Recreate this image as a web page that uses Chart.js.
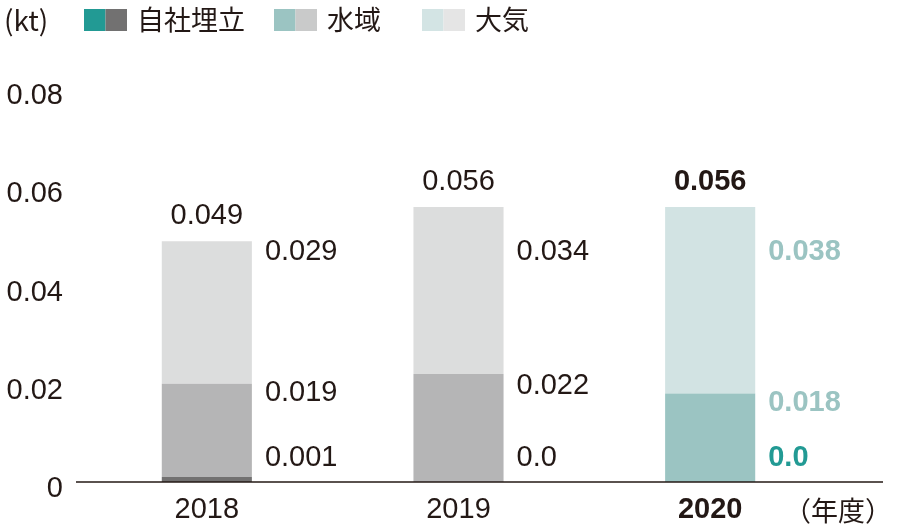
<!DOCTYPE html>
<html lang="ja">
<head>
<meta charset="utf-8">
<title>排出量</title>
<script src="https://cdn.jsdelivr.net/npm/chart.js@4.4.1/dist/chart.umd.min.js"></script>
<style>
  html, body { margin: 0; padding: 0; background: #fff; }
  .chart-box { width: 920px; height: 524px; position: relative; }
</style>
</head>
<body>
<div class="chart-box"><canvas id="emissionChart"></canvas></div>
<script>
// Data (kt)
const years = ['2018', '2019', '2020'];
const landfill = [0.001, 0, 0];        // 自社埋立
const water = [0.019, 0.022, 0.018];   // 水域
const air = [0.029, 0.034, 0.038];     // 大気
const totals = [0.049, 0.056, 0.056];
const yTicks = [0, 0.02, 0.04, 0.06, 0.08];
const seriesNames = ['自社埋立', '水域', '大気'];

// Colours
const INK = '#231815';
const landfillColors = ['#727171', '#727171', '#229a94'];
const waterColors = ['#b5b5b6', '#b5b5b6', '#9bc4c2'];
const airColors = ['#dcdddd', '#dcdddd', '#d2e3e3'];
const legendSwatches = [['#229a94', '#727171'], ['#9bc4c2', '#c9caca'], ['#d3e4e4', '#e5e5e5']];
const legendX = [84, 274, 422];
const FONT = '"Liberation Sans", Arial, sans-serif';
const JP_FONT = '"Noto Sans CJK JP", sans-serif';

function fmt(v) {
  return v === 0 ? '0.0' : v.toFixed(3);
}

// legend, baseline, unit labels and value labels
const decorPlugin = {
  id: 'decor',
  afterDraw(chart) {
    const { ctx, chartArea } = chart;
    const x = chart.scales.x;
    const y = chart.scales.y;
    ctx.save();

    // baseline
    const base = y.getPixelForValue(0);
    ctx.strokeStyle = INK;
    ctx.lineWidth = 1.4;
    ctx.beginPath();
    ctx.moveTo(chartArea.left - 5, base);
    ctx.lineTo(chartArea.right + 47, base);
    ctx.stroke();

    // legend
    ctx.textBaseline = 'middle';
    ctx.textAlign = 'left';
    ctx.fillStyle = INK;
    ctx.font = '28px ' + JP_FONT;
    ctx.fillText('(kt)', 4, 20);
    ctx.font = '27px ' + JP_FONT;
    seriesNames.forEach((name, i) => {
      const lx = legendX[i];
      ctx.fillStyle = legendSwatches[i][0];
      ctx.fillRect(lx, 9, 21.5, 22);
      ctx.fillStyle = legendSwatches[i][1];
      ctx.fillRect(lx + 21.5, 9, 21.5, 22);
      ctx.fillStyle = INK;
      ctx.fillText(name, lx + 53, 20);
    });

    // unit of the x axis
    ctx.textAlign = 'right';
    ctx.font = '27px ' + JP_FONT;
    ctx.fillText('（年度）', chartArea.right + 56, 511);

    // value labels
    const meta = chart.getDatasetMeta(0);
    years.forEach((yr, i) => {
      const bar = meta.data[i];
      const cx = x.getPixelForValue(i);
      const right = bar.x + bar.width / 2 + 13;
      const bold = i === 2;
      ctx.font = (bold ? 'bold ' : '') + '29px ' + FONT;

      // total on top
      const top = y.getPixelForValue(totals[i]);
      ctx.textAlign = 'center';
      ctx.fillStyle = INK;
      ctx.fillText(totals[i].toFixed(3), cx, top - 25);

      // segment values on the right
      ctx.textAlign = 'left';
      const waterTop = y.getPixelForValue(landfill[i] + water[i]);
      const airTop = y.getPixelForValue(totals[i]);
      const rows = [
        { v: air[i], py: Math.max(y.getPixelForValue(0.0469), airTop + 9), c: bold ? '#9bc4c2' : INK },
        { v: water[i], py: Math.max(y.getPixelForValue(0.0195), waterTop + 9), c: bold ? '#9bc4c2' : INK },
        { v: landfill[i], py: y.getPixelForValue(0.0049), c: bold ? '#229a94' : INK }
      ];
      rows.forEach(r => {
        ctx.fillStyle = r.c;
        ctx.fillText(fmt(r.v), right, r.py);
      });
    });
    ctx.restore();
  }
};

new Chart(document.getElementById('emissionChart'), {
  type: 'bar',
  data: {
    labels: years,
    datasets: [
      { label: seriesNames[0], data: landfill, backgroundColor: landfillColors },
      { label: seriesNames[1], data: water, backgroundColor: waterColors },
      { label: seriesNames[2], data: air, backgroundColor: airColors }
    ]
  },
  options: {
    responsive: true,
    maintainAspectRatio: false,
    animation: false,
    devicePixelRatio: 1,
    datasets: { bar: { barPercentage: 0.358, categoryPercentage: 1, borderWidth: 0 } },
    layout: { padding: { top: 89, right: 84, left: 0, bottom: 0 } },
    plugins: { legend: { display: false }, tooltip: { enabled: false } },
    scales: {
      x: {
        stacked: true,
        grid: { display: false, drawTicks: false },
        border: { display: false },
        afterFit: s => { s.height = 42; },
        ticks: {
          color: INK,
          padding: 11,
          font: c => ({ family: FONT, size: 29, weight: c.index === 2 ? 'bold' : 'normal' })
        }
      },
      y: {
        stacked: true,
        min: 0,
        max: 0.08,
        grid: { display: false, drawTicks: false },
        border: { display: false },
        afterFit: s => { s.width = 81; },
        afterBuildTicks: s => { s.ticks = yTicks.map(v => ({ value: v })); },
        ticks: {
          color: INK,
          padding: 18,
          labelOffset: 7,
          font: { family: FONT, size: 29 },
          callback: v => v === 0 ? '0' : v.toFixed(2)
        }
      }
    }
  },
  plugins: [decorPlugin]
});
</script>
</body>
</html>
